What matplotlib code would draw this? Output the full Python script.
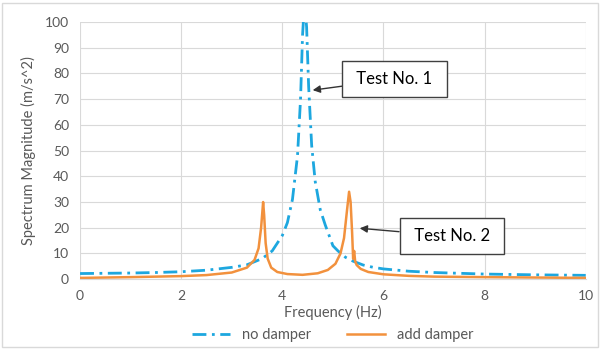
import matplotlib.pyplot as plt

plt.rcParams['font.family'] = ['Lato', 'DejaVu Sans']

# spectrum without damper
freq_no = [0.0, 0.5, 1.0, 1.5, 2.0, 2.5, 3.0, 3.3, 3.6, 3.8, 4.0, 4.1, 4.2,
           4.3, 4.36, 4.4, 4.44, 4.48, 4.52, 4.58, 4.65, 4.75, 4.85, 5.0,
           5.1, 5.25, 5.4, 5.6, 5.8, 6.0, 6.5, 7.0, 7.5, 8.0, 9.0, 10.0]
mag_no = [2.2, 2.3, 2.4, 2.6, 2.9, 3.5, 4.6, 5.6, 8.0, 11.0, 17.0, 22.0, 31.0,
          48.0, 70.0, 95.0, 108.0, 98.0, 75.0, 52.0, 38.0, 27.0, 21.0, 13.0,
          11.0, 8.5, 7.0, 5.5, 4.6, 4.0, 3.1, 2.6, 2.3, 2.0, 1.7, 1.5]

# spectrum with damper added
freq_dmp = [0.0, 1.0, 2.0, 2.5, 3.0, 3.3, 3.45, 3.53, 3.58, 3.62, 3.64, 3.67,
            3.71, 3.78, 3.9, 4.1, 4.4, 4.7, 4.9, 5.05, 5.15, 5.22, 5.28, 5.32,
            5.35, 5.38, 5.4, 5.42, 5.44, 5.47, 5.55, 5.7, 6.0, 6.5, 7.0, 8.0,
            9.0, 10.0]
mag_dmp = [0.5, 0.8, 1.2, 1.6, 2.6, 4.5, 7.5, 12.0, 20.0, 30.0, 25.0, 14.0,
           8.0, 4.5, 2.8, 2.0, 1.7, 2.3, 3.6, 6.0, 10.0, 16.0, 27.0, 34.0,
           30.0, 18.0, 8.0, 11.0, 7.0, 5.5, 4.0, 2.8, 1.9, 1.3, 1.0, 0.8,
           0.65, 0.5]

blue = '#1DA7DF'
orange = '#F2913D'
gray = '#595959'

fig = plt.figure(figsize=(6.02, 3.49), dpi=100)
fig.patches.append(plt.Rectangle((0.004, 0.006), 0.99, 0.986, transform=fig.transFigure,
                                 fill=False, edgecolor='#D9D9D9', linewidth=1))
ax = fig.add_axes([0.133, 0.2, 0.84, 0.737])

ax.plot(freq_no, mag_no, color=blue, linewidth=2, linestyle=(0, (5, 2, 1, 2)),
        label='no damper')
ax.plot(freq_dmp, mag_dmp, color=orange, linewidth=1.8, label='add damper')

ax.set_xlim(0, 10)
ax.set_ylim(0, 100)
ax.set_xticks(range(0, 11, 2))
ax.set_yticks(range(0, 101, 10))
ax.grid(True, color='#D9D9D9', linewidth=0.8)
ax.set_axisbelow(True)
for side in ['top', 'right', 'left']:
    ax.spines[side].set_visible(False)
ax.spines['bottom'].set_color('#D9D9D9')
ax.tick_params(length=0, labelsize=10, labelcolor=gray, pad=8)
ax.set_xlabel('Frequency (Hz)', fontsize=10.5, color=gray, labelpad=2)
ax.set_ylabel('Spectrum Magnitude (m/s^2)', fontsize=10.5, color=gray, labelpad=6)

box = dict(boxstyle='square,pad=0.6', facecolor='white', edgecolor='#404040', linewidth=1)
arrow = dict(arrowstyle='-|>', color='#333333', linewidth=1, mutation_scale=11,
             shrinkA=0, shrinkB=0)
ax.annotate(' Test No. 1 ', xy=(4.6, 73.5), xytext=(6.22, 77.8), fontsize=12,
            bbox=box, arrowprops=arrow, va='center', ha='center')
ax.annotate(' Test No. 2 ', xy=(5.53, 19.8), xytext=(7.35, 16.7), fontsize=12,
            bbox=box, arrowprops=arrow, va='center', ha='center')

ax.legend(loc='center', bbox_to_anchor=(0.5, -0.218), ncol=2, frameon=False,
          fontsize=10.5, labelcolor=gray, handlelength=2.6, columnspacing=2.5)

fig.savefig('out.png', dpi=100)
